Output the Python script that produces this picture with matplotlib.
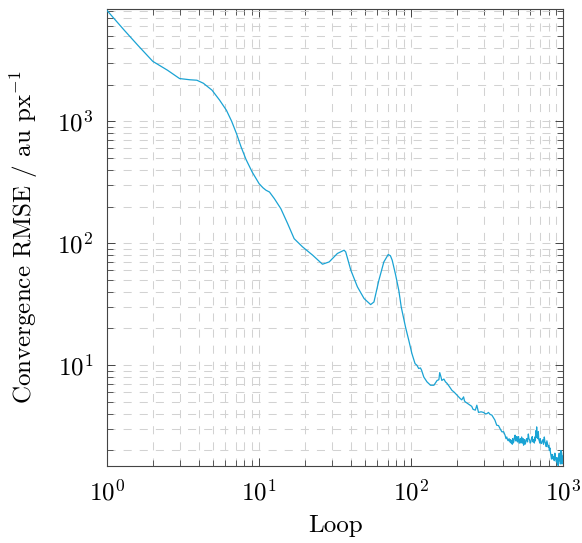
import matplotlib
matplotlib.use("Agg")
import matplotlib.pyplot as plt
from matplotlib.ticker import LogLocator, NullFormatter

plt.rcParams["font.family"] = ["cmr10", "DejaVu Serif"]
plt.rcParams["mathtext.fontset"] = "cm"
plt.rcParams["axes.formatter.use_mathtext"] = True
plt.rcParams["lines.scale_dashes"] = False

# Convergence history: loop index and RMSE
loop = [1, 1.3, 1.6, 2.0, 2.5, 3.0, 3.5, 3.9, 4.3, 4.9, 5.5, 6.1, 6.6, 7.1, 7.6,
        8.2, 9.0, 10.0, 10.6, 11.1, 11.7, 12.6, 13.9, 15.4, 17.0, 19.3, 22.5,
        26.1, 28.9, 32.7, 36.2, 37.1, 38.5, 40.1, 44.3, 49.0, 54.1, 56.9, 61.3,
        66.1, 70.6, 73, 75.0, 79, 82.9, 86, 91.7, 96.4, 101, 106, 109, 112, 115,
        117, 121, 127, 134, 141, 148, 152, 154, 157, 159, 164, 168, 172, 178,
        185, 192, 200, 210, 215, 221, 224, 227, 235, 244, 250, 255, 264, 270,
        277, 288, 299, 307, 314, 322, 330, 339, 355, 365, 375, 385, 395, 405,
        414, 420, 425, 430, 435, 440, 445, 450, 454, 458, 462, 465, 468, 472,
        477, 482, 486, 490, 495, 500, 504, 508, 512, 515, 519, 522, 527, 532,
        536, 540, 544, 548, 552, 556, 560, 565, 570, 575, 582, 589, 594, 600,
        606, 612, 618, 625, 632, 640, 645, 650, 655, 660, 664, 668, 672, 676,
        680, 685, 690, 695, 700, 705, 712, 720, 727, 735, 742, 750, 757, 765,
        772, 780, 788, 796, 803, 810, 816, 822, 830, 837, 843, 850, 857, 865,
        872, 880, 890, 902, 908, 915, 920, 926, 933, 940, 945, 950, 957, 964,
        970, 975, 980, 985, 992, 1000]
rmse = [8100, 5570, 4180, 3100, 2620, 2240, 2190, 2170, 2050, 1800, 1490, 1230,
        1000, 793, 620, 487, 384, 308, 285, 272, 263, 232, 192, 145, 109, 93.4,
        79.8, 67.3, 70.3, 82.4, 87.7, 84.9, 72, 60.1, 43.9, 35.2, 31.4, 33.0,
        49.7, 70.3, 80.8, 79, 72.6, 55, 41, 30, 20.6, 16.0, 12.5, 10.3, 10.0,
        9.4, 9.5, 9.1, 8.0, 7.3, 6.85, 6.85, 7.5, 7.6, 8.7, 8.0, 7.5, 7.7, 7.3,
        7.1, 6.7, 6.24, 6.0, 5.68, 5.33, 5.2, 5.5, 5.1, 5.0, 4.85, 4.7, 4.6,
        4.35, 4.28, 4.7, 4.1, 4.15, 4.1, 4.0, 4.0, 4.1, 3.95, 3.9, 3.55, 3.22,
        3.2, 3.0, 2.84, 2.85,
        2.67, 2.5, 2.58, 2.45, 2.4, 2.5, 2.35, 2.45, 2.3, 2.42, 2.25, 2.5, 2.3,
        2.35, 2.55, 2.67, 2.4, 2.4, 2.6, 2.35, 2.55, 2.6, 2.3, 2.3, 2.45, 2.5,
        2.3, 2.58, 2.35, 2.3, 2.5, 2.21, 2.35, 2.45, 2.25, 2.3, 2.45, 2.5, 2.35,
        2.73, 2.5, 2.45, 2.3, 2.35, 2.5, 2.6, 2.35, 2.45, 2.3, 2.58, 2.4, 2.9,
        2.55, 3.12, 2.7, 2.7, 2.5, 2.85, 2.45, 2.4, 2.3, 2.5, 2.3, 2.28, 2.4,
        2.45, 2.25, 2.58, 2.35, 2.3, 2.15, 2.4, 2.25, 2.13, 2.2, 2.0, 2.1,
        1.95, 1.8, 1.7, 1.85, 1.85, 1.7, 1.78, 1.65, 1.9, 1.7, 1.61, 1.75, 1.55,
        1.6, 1.5, 1.75, 1.9, 1.65, 1.7, 1.55, 2.0, 1.7, 1.6, 1.55, 1.8, 1.65,
        1.9]

line_color = "#1aa3d4"
grid_color = "#d2d2d2"
frame_color = "#444444"
font_size = 18

fig = plt.figure(figsize=(5.82, 5.43), dpi=100)
ax = fig.add_axes([107 / 582, 1 - 465.7 / 543, (563.3 - 107) / 582, (465.7 - 9.3) / 543])

ax.plot(loop, rmse, color=line_color, lw=0.9, zorder=3)

ax.set_xscale("log")
ax.set_yscale("log")
ax.set_xlim(1, 1000)
ax.set_ylim(1.50, 8280)

for axis in (ax.xaxis, ax.yaxis):
    axis.set_major_locator(LogLocator(base=10, numticks=10))
    axis.set_minor_locator(LogLocator(base=10, subs=range(2, 10), numticks=100))
    axis.set_minor_formatter(NullFormatter())

ax.grid(True, which="both", color=grid_color, lw=0.75, linestyle=(0, (5.8, 5.8)))
ax.set_axisbelow(True)

ax.tick_params(which="both", direction="in", top=True, right=True, color=frame_color,
               labelsize=font_size)
ax.tick_params(which="major", length=6, width=0.7)
ax.tick_params(which="minor", length=4, width=0.6)
ax.tick_params(axis="x", which="major", pad=10)
ax.tick_params(axis="y", which="major", pad=10)

for sp in ax.spines.values():
    sp.set_color(frame_color)
    sp.set_linewidth(0.8)

ax.set_xlabel("Loop", fontsize=font_size, labelpad=7)
ax.set_ylabel("Convergence RMSE / au px$^{-1}$", fontsize=font_size, labelpad=12)

fig.savefig("out.png", dpi=100)
